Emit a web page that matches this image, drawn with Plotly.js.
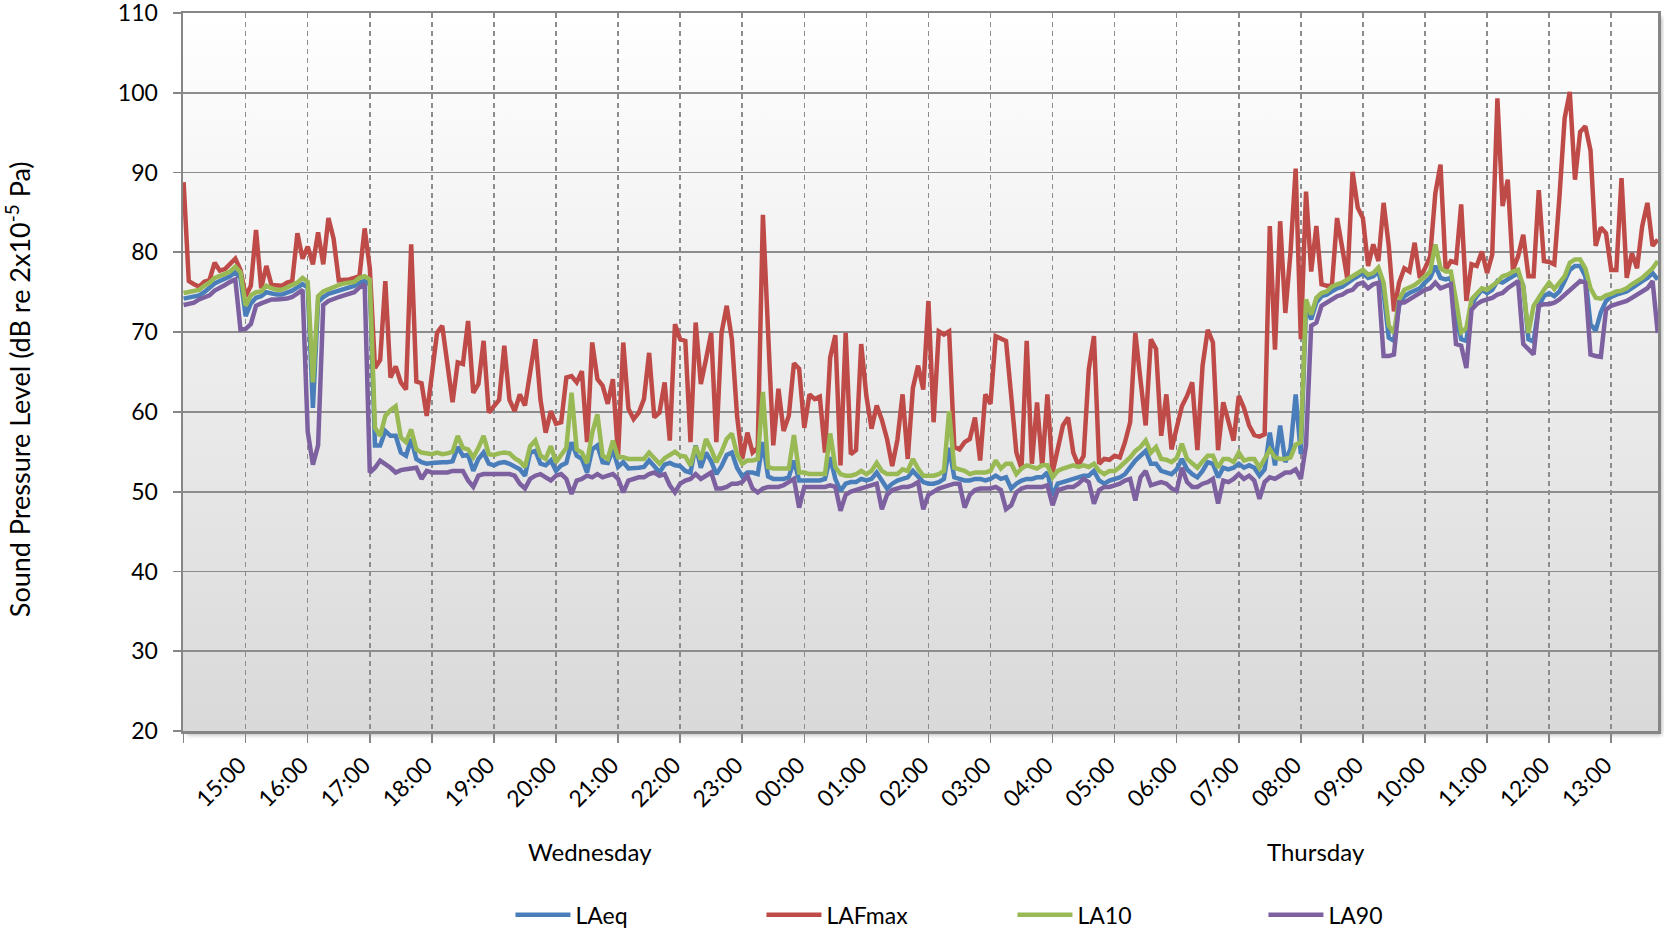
<!DOCTYPE html>
<html>
<head>
<meta charset="utf-8">
<script src="https://cdn.plot.ly/plotly-3.0.1.min.js"></script>
<style>
html,body{margin:0;padding:0;background:#ffffff;}
#chart{width:1664px;height:929px;}
</style>
</head>
<body>
<div id="chart"></div>
<script>
// ---------- DATA (5-minute samples, Wednesday 14:00 -> Thursday 13:45) ----------
const startTimeUTC = Date.UTC(2000, 0, 5, 14, 0, 0); // a Wednesday
const stepMinutes = 5;

const LAeq = [
  74.2, 74.3, 74.4, 74.6, 75.0, 75.5, 76.1, 76.4, 76.7, 77.0, 77.5, 76.8,
  72.0, 73.6, 74.3, 74.5, 75.0, 74.8, 74.7, 74.7, 74.9, 75.2, 75.6, 76.0,
  75.6, 60.5, 73.8, 74.4, 74.8, 75.0, 75.2, 75.4, 75.6, 75.8, 76.2, 76.4,
  76.0, 55.8, 55.8, 57.6, 57.0, 57.0, 54.9, 54.5, 56.6, 54.1, 53.7, 53.5,
  53.6, 53.7, 53.7, 53.7, 53.8, 55.6, 54.5, 54.6, 52.6, 54.1, 54.9, 53.5,
  53.3, 53.6, 53.7, 53.5, 53.2, 52.8, 52.0, 54.9, 55.1, 53.5, 53.3, 53.9,
  52.6, 53.3, 53.6, 56.2, 54.5, 54.1, 52.4, 55.3, 55.8, 53.7, 53.6, 55.3,
  53.1, 53.7, 52.9, 52.9, 53.0, 53.1, 53.9, 53.2, 52.4, 53.4, 53.6, 53.3,
  53.2, 52.6, 52.4, 55.8, 53.0, 54.9, 53.8, 52.2, 53.2, 54.6, 54.9, 53.0,
  51.9, 52.4, 52.4, 52.2, 56.2, 51.9, 51.6, 51.6, 51.6, 51.8, 53.9, 51.4,
  51.4, 51.4, 51.4, 51.4, 51.6, 54.3, 51.6, 50.1, 51.0, 51.2, 51.2, 51.6,
  51.4, 51.6, 52.4, 51.4, 50.4, 51.0, 51.4, 51.6, 51.8, 52.6, 51.8, 51.2,
  51.0, 51.0, 51.2, 51.6, 55.5, 51.8, 51.6, 51.4, 51.4, 51.6, 51.6, 51.4,
  51.6, 52.0, 51.6, 51.8, 50.4, 51.0, 51.4, 51.6, 51.6, 51.8, 51.8, 52.4,
  49.5, 51.0, 51.2, 51.4, 51.6, 51.8, 52.0, 52.0, 52.6, 51.4, 51.0, 51.4,
  51.6, 51.8, 52.2, 53.1, 53.9, 54.5, 55.1, 53.5, 53.5, 52.6, 52.4, 52.2,
  52.8, 54.1, 52.8, 52.2, 51.8, 52.6, 53.7, 53.5, 51.8, 53.0, 52.8, 53.0,
  53.5, 53.0, 53.3, 53.0, 52.0, 52.8, 57.4, 53.3, 58.3, 53.7, 55.4, 62.2,
  54.7, 73.3, 71.6, 73.7, 74.5, 74.7, 75.1, 75.5, 75.7, 76.2, 76.6, 77.0,
  77.4, 76.8, 77.0, 77.6, 74.9, 69.3, 68.9, 73.3, 74.5, 74.9, 75.2, 75.5,
  76.2, 76.8, 78.3, 76.8, 76.6, 76.8, 72.0, 69.1, 68.9, 73.5, 74.5, 75.3,
  74.9, 75.3, 76.4, 76.2, 76.6, 77.0, 77.4, 75.8, 69.1, 68.8, 73.3, 74.5,
  74.9, 74.5, 75.1, 76.4, 77.8, 78.3, 78.3, 77.0, 71.0, 70.2, 72.5, 73.9,
  74.4, 74.7, 74.9, 75.1, 75.5, 76.0, 76.4, 76.8, 77.4, 76.6
];

const LAFmax = [
  88.8, 76.4, 76.0, 75.7, 76.3, 76.5, 78.7, 77.7, 77.9, 78.6, 79.2, 77.8,
  74.5, 75.8, 82.8, 75.5, 78.3, 75.9, 75.8, 75.8, 76.2, 76.4, 82.4, 79.2,
  80.7, 78.5, 82.5, 78.5, 84.3, 81.7, 76.5, 76.5, 76.6, 76.8, 77.0, 83.0,
  78.0, 65.5, 66.5, 76.4, 64.3, 65.7, 63.7, 62.8, 81.0, 63.8, 63.6, 59.5,
  64.5, 69.9, 70.8, 66.0, 61.2, 66.2, 66.0, 71.4, 62.4, 63.5, 68.9, 59.9,
  60.7, 61.5, 68.3, 61.5, 60.1, 62.2, 60.8, 65.0, 69.1, 61.5, 57.4, 60.1,
  58.5, 58.7, 64.3, 64.5, 63.7, 65.1, 56.2, 68.7, 64.1, 63.3, 61.0, 64.1,
  54.5, 68.7, 60.4, 59.1, 59.9, 61.6, 67.4, 59.3, 59.9, 63.7, 56.4, 71.0,
  69.1, 68.9, 56.2, 71.2, 63.5, 66.6, 69.9, 56.2, 69.9, 73.3, 69.1, 59.5,
  54.1, 57.4, 54.9, 55.5, 84.7, 70.0, 55.8, 62.9, 57.6, 59.5, 66.1, 65.4,
  58.0, 62.2, 61.6, 61.9, 54.9, 66.8, 69.6, 53.3, 69.9, 54.7, 55.2, 68.5,
  62.0, 57.9, 60.8, 59.0, 56.6, 53.2, 56.5, 62.2, 54.1, 63.0, 65.8, 62.8,
  73.9, 58.7, 70.1, 69.7, 70.1, 55.6, 55.3, 56.2, 56.6, 59.3, 53.9, 62.2,
  61.0, 69.5, 69.2, 68.9, 62.0, 54.9, 52.9, 68.9, 53.5, 61.2, 53.1, 62.2,
  52.4, 55.5, 58.3, 59.3, 54.9, 53.3, 54.5, 65.3, 69.5, 53.5, 54.1, 54.0,
  54.5, 54.3, 56.2, 58.7, 69.9, 64.0, 58.3, 69.1, 67.9, 57.0, 62.2, 55.3,
  57.8, 60.7, 62.0, 63.7, 55.2, 65.8, 70.3, 68.7, 55.2, 61.2, 58.8, 56.4,
  62.0, 60.5, 58.3, 57.1, 56.9, 57.2, 83.3, 67.8, 83.9, 72.4, 80.0, 90.5,
  69.1, 87.6, 77.6, 83.3, 76.0, 75.8, 75.8, 84.3, 80.6, 76.6, 90.1, 85.6,
  84.3, 78.3, 81.0, 78.9, 86.2, 80.8, 72.6, 76.2, 78.0, 77.6, 81.2, 76.8,
  78.0, 79.5, 87.4, 91.0, 77.8, 78.9, 78.7, 86.0, 73.9, 78.5, 78.3, 80.1,
  77.4, 79.7, 99.3, 85.8, 89.1, 77.8, 79.5, 82.2, 77.0, 77.0, 87.8, 78.9,
  78.8, 78.5, 87.0, 96.8, 100.1, 89.1, 95.1, 95.8, 92.8, 80.8, 83.1, 82.4,
  77.8, 77.8, 89.3, 76.8, 79.9, 78.0, 83.3, 86.2, 80.8, 81.6
];

const LA10 = [
  74.9, 75.0, 75.1, 75.3, 75.8, 76.2, 76.8, 77.0, 77.3, 77.6, 78.2, 77.5,
  73.3, 74.6, 75.0, 75.1, 75.8, 75.5, 75.3, 75.3, 75.6, 75.9, 76.2, 76.8,
  76.3, 63.7, 74.5, 75.1, 75.4, 75.6, 75.9, 76.1, 76.2, 76.3, 76.8, 77.0,
  76.6, 58.0, 57.0, 59.5, 60.2, 60.7, 56.8, 56.2, 57.8, 55.3, 54.9, 54.8,
  54.7, 54.9, 54.7, 54.8, 55.0, 57.0, 55.5, 55.3, 54.3, 55.5, 57.0, 54.7,
  54.6, 54.8, 54.9, 54.8, 54.2, 53.8, 53.1, 55.7, 56.4, 54.5, 54.1, 55.7,
  53.7, 54.6, 55.5, 62.4, 55.3, 54.9, 53.6, 57.4, 59.7, 54.5, 54.1, 56.4,
  54.3, 54.3, 54.1, 54.1, 54.1, 54.1, 54.9, 54.1, 53.5, 54.2, 54.6, 55.0,
  54.5, 54.4, 53.3, 55.7, 54.0, 56.6, 55.3, 53.7, 55.0, 56.6, 57.3, 54.7,
  53.5, 53.9, 53.9, 54.1, 62.5, 53.1, 52.9, 52.9, 52.9, 52.9, 57.1, 52.4,
  52.4, 52.2, 52.2, 52.2, 52.2, 57.3, 53.1, 52.2, 52.0, 52.0, 52.2, 52.6,
  52.2, 52.6, 53.6, 52.6, 52.2, 52.2, 52.2, 52.8, 52.6, 54.1, 52.9, 52.0,
  52.0, 52.0, 52.2, 52.6, 60.1, 53.0, 52.8, 52.6, 52.2, 52.4, 52.4, 52.4,
  52.6, 53.9, 52.9, 53.5, 53.5, 52.2, 52.9, 53.3, 53.1, 52.9, 53.3, 53.3,
  51.8, 52.6, 52.9, 53.1, 53.3, 53.1, 53.3, 53.1, 53.5, 52.6, 52.2, 52.6,
  52.6, 53.1, 53.7, 54.3, 55.1, 55.6, 56.4, 54.9, 55.6, 54.1, 54.0, 53.7,
  54.2, 56.0, 54.1, 53.5, 53.0, 53.8, 54.5, 54.5, 53.0, 54.1, 54.1, 53.7,
  54.9, 53.9, 54.1, 54.1, 53.0, 54.1, 55.3, 54.3, 54.1, 54.1, 54.3, 55.9,
  56.2, 74.1, 72.2, 74.3, 74.9, 75.1, 75.7, 76.0, 76.2, 76.6, 77.0, 77.4,
  77.8, 77.2, 77.4, 78.1, 76.2, 70.8, 69.9, 74.1, 75.3, 75.6, 75.9, 76.4,
  77.0, 77.6, 81.0, 78.0, 77.6, 77.6, 74.0, 70.0, 70.5, 74.1, 74.8, 75.5,
  75.3, 75.8, 76.3, 77.0, 77.2, 77.6, 77.8, 75.7, 69.9, 73.3, 74.4, 75.3,
  76.2, 75.4, 76.2, 77.0, 78.7, 79.1, 79.1, 78.0, 75.5, 74.3, 74.2, 74.6,
  74.8, 75.1, 75.2, 75.5, 76.0, 76.4, 76.8, 77.4, 78.0, 78.9
];

const LA90 = [
  73.4, 73.5, 73.7, 74.1, 74.3, 74.6, 75.2, 75.5, 75.9, 76.3, 76.6, 70.3,
  70.4, 71.0, 73.3, 73.6, 73.9, 74.1, 74.1, 74.1, 74.2, 74.4, 74.8, 75.3,
  57.5, 53.4, 55.8, 73.4, 73.9, 74.2, 74.4, 74.6, 74.8, 75.0, 75.6, 76.0,
  52.4, 53.0, 53.9, 53.5, 53.0, 52.4, 52.7, 52.8, 52.9, 53.0, 51.6, 52.6,
  52.4, 52.4, 52.3, 52.4, 52.6, 52.6, 52.6, 51.4, 50.6, 52.0, 52.2, 52.2,
  52.2, 52.2, 52.2, 52.2, 52.0, 51.0, 50.4, 51.6, 52.0, 52.2, 51.8, 51.4,
  52.0, 52.2, 51.6, 49.7, 51.4, 51.6, 52.0, 51.8, 52.2, 51.8, 52.0, 52.2,
  51.6, 49.9, 51.4, 51.6, 51.8, 51.8, 52.2, 52.4, 52.0, 52.2, 50.8, 49.9,
  51.0, 51.4, 51.6, 52.2, 51.6, 52.0, 52.4, 50.4, 50.4, 50.6, 51.0, 51.0,
  51.2, 52.0, 50.4, 49.9, 50.4, 50.6, 50.6, 50.6, 50.8, 51.2, 51.6, 48.0,
  50.6, 50.6, 50.6, 50.6, 50.6, 50.8, 50.6, 47.6, 49.6, 50.0, 50.2, 50.4,
  50.6, 50.8, 51.0, 47.8, 49.6, 50.2, 50.4, 50.6, 50.6, 50.8, 51.2, 47.8,
  49.6, 50.0, 50.4, 50.6, 50.8, 51.0, 51.0, 48.0, 49.6, 50.2, 50.4, 50.4,
  50.4, 50.6, 50.2, 47.8, 48.3, 49.9, 50.4, 50.6, 50.6, 50.6, 50.6, 50.8,
  48.3, 50.2, 50.4, 50.6, 50.6, 51.0, 51.6, 51.2, 48.5, 50.2, 50.6, 50.6,
  50.8, 51.0, 51.4, 51.6, 48.9, 51.8, 52.6, 50.8, 51.0, 51.2, 51.0, 50.4,
  50.1, 53.0, 51.2, 50.6, 50.6, 51.0, 51.2, 51.6, 48.5, 51.4, 51.2, 51.6,
  52.2, 51.6, 52.0, 51.4, 49.1, 51.2, 51.8, 51.6, 52.0, 52.4, 52.4, 52.8,
  51.6, 55.8, 70.8, 71.2, 73.3, 73.7, 74.1, 74.5, 74.7, 75.1, 75.3, 76.0,
  76.2, 75.5, 76.0, 76.2, 67.0, 67.0, 67.2, 73.7, 73.7, 74.1, 74.5, 74.9,
  75.3, 75.5, 76.2, 75.5, 75.7, 76.0, 68.5, 68.3, 65.5, 72.8, 73.5, 73.9,
  74.1, 74.3, 74.7, 74.9, 75.5, 75.9, 76.4, 68.5, 67.8, 67.2, 73.3, 73.5,
  73.5, 73.7, 74.1, 74.7, 75.3, 75.9, 76.4, 76.2, 67.2, 67.0, 66.9, 72.8,
  73.3, 73.5, 73.7, 73.9, 74.3, 74.7, 75.1, 75.5, 76.4, 69.9
];

const hourLabels = ['15:00','16:00','17:00','18:00','19:00','20:00','21:00','22:00','23:00',
  '00:00','01:00','02:00','03:00','04:00','05:00','06:00','07:00','08:00','09:00',
  '10:00','11:00','12:00','13:00'];
const dayLabels = ['Wednesday', 'Thursday'];
const seriesNames = ['LAeq', 'LAFmax', 'LA10', 'LA90'];

// ---------- helpers ----------
function stamp(ms) { return new Date(ms).toISOString().slice(0, 19).replace('T', ' '); }
const times = LAeq.map((_, i) => stamp(startTimeUTC + i * stepMinutes * 60000));
const tickVals = [stamp(startTimeUTC)].concat(hourLabels.map((_, k) => stamp(startTimeUTC + (k + 1) * 3600000)));
const tickText = [' '].concat(hourLabels);

const colors = { LAeq: '#4A7EBB', LAFmax: '#BE4B48', LA10: '#98B954', LA90: '#7D60A0' };
const seriesData = { LAeq: LAeq, LAFmax: LAFmax, LA10: LA10, LA90: LA90 };

const traces = seriesNames.map(n => ({
  type: 'scatter', mode: 'lines', name: n, x: times, y: seriesData[n],
  line: { color: colors[n], width: 4.5, shape: 'linear' }
}));

// plot-area background gradient + soft shadow (SVG data URI)
const PW = 1475, PH = 718;
const svg = `<svg xmlns="http://www.w3.org/2000/svg" width="${PW + 8}" height="${PH + 8}" viewBox="0 0 ${PW + 8} ${PH + 8}" preserveAspectRatio="none">
<defs><linearGradient id="g" x1="0" y1="0" x2="0" y2="1"><stop offset="0" stop-color="#ffffff"/><stop offset="1" stop-color="#d9d9d9"/></linearGradient>
<filter id="b" x="-5%" y="-5%" width="110%" height="110%"><feGaussianBlur stdDeviation="2"/></filter></defs>
<rect x="4" y="4" width="${PW}" height="${PH}" fill="#000" opacity="0.28" filter="url(#b)"/>
<rect x="0" y="0" width="${PW}" height="${PH}" fill="url(#g)"/></svg>`;
const bgSrc = 'data:image/svg+xml;charset=utf-8,' + encodeURIComponent(svg);

const FONT = 'Lato, "Open Sans", sans-serif';

const layout = {
  width: 1664, height: 929,
  margin: { l: 183, r: 6, t: 13, b: 198, autoexpand: false },
  paper_bgcolor: '#ffffff',
  plot_bgcolor: 'rgba(0,0,0,0)',
  font: { family: FONT, size: 23, color: '#000000' },
  showlegend: true,
  legend: {
    orientation: 'h', x: 0.222, xanchor: 'left', y: -0.256, yanchor: 'middle',
    entrywidth: 181, entrywidthmode: 'pixels', itemwidth: 55,
    font: { family: FONT, size: 23, color: '#000000' }, bgcolor: 'rgba(0,0,0,0)',
    traceorder: 'normal'
  },
  xaxis: {
    type: 'date',
    range: ['2000-01-05 13:59:25', '2000-01-06 13:45:15'],
    tickmode: 'array', tickvals: tickVals, ticktext: tickText,
    tickangle: -45, ticks: 'outside', ticklen: 9, tickwidth: 1.5, tickcolor: '#868686',
    ticklabelstandoff: 0, ticklabelshift: -6, ticklabeloverflow: 'allow',
    tickfont: { family: FONT, size: 23, color: '#000000' },
    showgrid: true, gridcolor: '#8c8c8c', gridwidth: 1.5, griddash: '5px,4px',
    showline: true, linecolor: '#868686', linewidth: 2.5, mirror: true,
    zeroline: false, fixedrange: true
  },
  yaxis: {
    range: [20, 110], tickmode: 'linear', tick0: 20, dtick: 10,
    ticks: 'outside', ticklen: 8, tickwidth: 1.8, tickcolor: '#868686',
    ticklabelstandoff: 10, ticklabeloverflow: 'allow',
    tickfont: { family: FONT, size: 23, color: '#000000' },
    showgrid: true, gridcolor: '#8c8c8c', gridwidth: 1.8,
    showline: true, linecolor: '#868686', linewidth: 2.5, mirror: true,
    zeroline: false, fixedrange: true
  },
  images: [{
    source: bgSrc, xref: 'paper', yref: 'paper', x: 0, y: 1,
    sizex: (PW + 8) / PW, sizey: (PH + 8) / PH, xanchor: 'left', yanchor: 'top',
    sizing: 'stretch', layer: 'below'
  }],
  annotations: [
    { text: 'Sound Pressure Level (dB re 2x10<sup>-5</sup> Pa)', textangle: -90,
      xref: 'paper', yref: 'paper', x: -0.1119, y: 0.476, xanchor: 'center', yanchor: 'middle',
      showarrow: false, font: { family: FONT, size: 27, color: '#000000' } },
    { text: dayLabels[0], xref: 'paper', yref: 'paper', x: 0.2759, y: -0.1685,
      xanchor: 'center', yanchor: 'middle', showarrow: false,
      font: { family: FONT, size: 24, color: '#000000' } },
    { text: dayLabels[1], xref: 'paper', yref: 'paper', x: 0.7681, y: -0.1685,
      xanchor: 'center', yanchor: 'middle', showarrow: false,
      font: { family: FONT, size: 24, color: '#000000' } }
  ],
  hovermode: false
};

Plotly.newPlot('chart', traces, layout, { staticPlot: true, displayModeBar: false });
</script>
</body>
</html>
